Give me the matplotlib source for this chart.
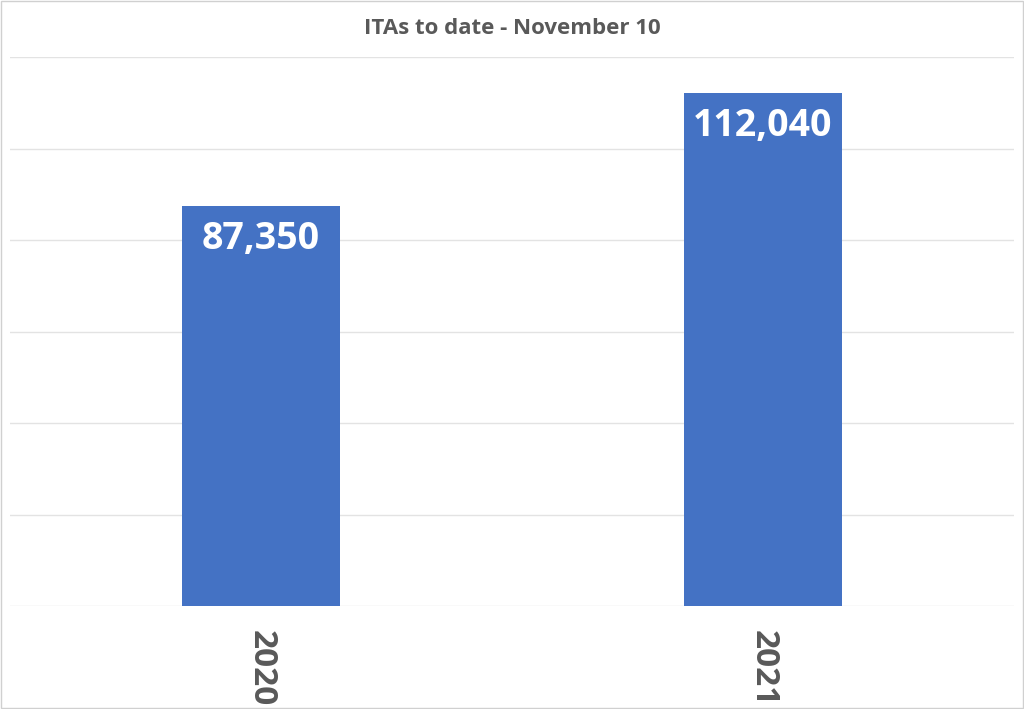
import matplotlib
matplotlib.use("Agg")
import matplotlib.pyplot as plt

categories = ["2020", "2021"]
values = [87350, 112040]
labels = ["87,350", "112,040"]

fig = plt.figure(figsize=(10.24, 7.09), dpi=100)
ax = fig.add_axes([10/1024, 1-606/709, 1004/1024, (606-57)/709])
x = list(range(len(categories)))
bars = ax.bar(x, values, width=0.315, color="#4472C4", zorder=3)
ax.set_xlim(-0.5, 1.5)
ax.set_ylim(0, 120000)
ax.set_yticks(range(0, 120001, 20000))
ax.yaxis.grid(True, color="#e3e3e3", linewidth=1, zorder=0)
ax.tick_params(axis="y", left=False, labelleft=False)
ax.tick_params(axis="x", bottom=False, pad=14)
ax.set_xticks(x)
ax.set_xticklabels(categories, rotation=-90, fontsize=24, fontweight="bold",
                   color="#595959", family="Open Sans")
for s in ax.spines.values():
    s.set_visible(False)
for b, t in zip(bars, labels):
    ax.text(b.get_x()+b.get_width()/2, b.get_height()-3000, t, ha="center", va="top",
            fontsize=27, fontweight="bold", color="white", family="Open Sans", zorder=4)
fig.text(0.5, 1-28/709, "ITAs to date - November 10", ha="center", va="center",
         fontsize=16, fontweight="bold", color="#595959", family="Open Sans")
fig.patches.append(plt.Rectangle((0.001, 0.001), 0.998, 0.998, transform=fig.transFigure,
                                 fill=False, edgecolor="#d0d0d0", linewidth=1))
fig.savefig("out.png", dpi=100)
